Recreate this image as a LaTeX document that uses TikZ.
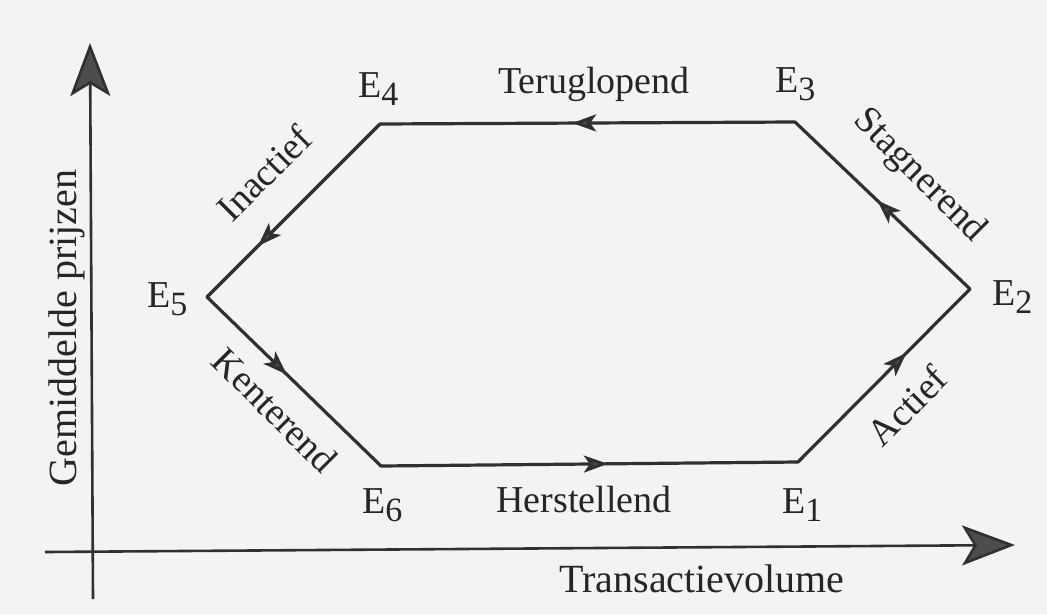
\documentclass[tikz,border=0pt]{standalone}
\usepackage{fontspec}
\setmainfont{Liberation Serif}
\usetikzlibrary{arrows.meta,decorations.markings}
\definecolor{ink}{HTML}{303030}
\definecolor{headgray}{HTML}{4D4D4D}
\definecolor{paper}{HTML}{F3F3F1}
\definecolor{txt}{HTML}{262626}
\newcommand{\Esub}[1]{E\raisebox{-8pt}{\fontsize{34}{34}\selectfont #1}}
\begin{document}
\begin{tikzpicture}[x=1pt,y=-1pt,
  edge/.style={draw=ink, line width=3.2pt, line cap=round},
  axisline/.style={draw=ink, line width=2.6pt, -{Stealth[length=53pt,width=40pt,inset=12pt,fill=headgray]}},
  midarrow/.style={postaction={decorate,decoration={markings,mark=at position #1 with {\arrow{Stealth[length=24pt,width=17pt,inset=6pt,fill=headgray]}}}}},
  lbl/.style={text=txt, font=\fontsize{38}{38}\selectfont, inner sep=0pt},
  elbl/.style={lbl, anchor=base west},
]
\fill[paper] (0,0) rectangle (1047,614);
\useasboundingbox (0,0) rectangle (1047,614);

% axes
\coordinate (ybot) at (93,599);
\coordinate (ytip) at (90,43);
\coordinate (xleft) at (45,552);
\coordinate (xtip) at (1015,545);
\draw[axisline] (ybot) -- (ytip);
\draw[axisline] (xleft) -- (xtip);

% hexagon vertices
\coordinate (E1) at (798,462);
\coordinate (E2) at (970,289);
\coordinate (E3) at (795,122);
\coordinate (E4) at (380,124);
\coordinate (E5) at (207,297);
\coordinate (E6) at (381,466);

\draw[edge, midarrow=0.63] (E1) -- (E2);
\draw[edge, midarrow=0.53] (E2) -- (E3);
\draw[edge, midarrow=0.537] (E3) -- (E4);
\draw[edge, midarrow=0.705] (E4) -- (E5);
\draw[edge, midarrow=0.458] (E5) -- (E6);
\draw[edge, midarrow=0.544] (E6) -- (E1);

% vertex labels
\node[elbl] (l1) at (782,513) {\Esub{1}};
\node[elbl] (l2) at (992,305) {\Esub{2}};
\node[elbl] (l3) at (775,92) {\Esub{3}};
\node[elbl] (l4) at (358,97) {\Esub{4}};
\node[elbl] (l5) at (147,307) {\Esub{5}};
\node[elbl] (l6) at (362,513) {\Esub{6}};

% phase labels
\node[lbl, anchor=base] (terug) at (594,93) {Teruglopend};
\node[lbl, anchor=base] (herst) at (584,512) {Herstellend};
\node[lbl, rotate=45] (inact) at (264,173) {Inactief};
\node[lbl, rotate=-45] (kent) at (275,410) {Kenterend};
\node[lbl, rotate=-45] (stag) at (919,176) {Stagnerend};
\node[lbl, rotate=45] (act) at (907,406) {Actief};

% axis labels
\node[lbl, anchor=base, font=\fontsize{40}{40}\selectfont] (xlab) at (702,592) {Transactievolume};
\node[lbl, anchor=base, rotate=90, font=\fontsize{40}{40}\selectfont] (ylab) at (76,328) {Gemiddelde prijzen};
\end{tikzpicture}
\end{document}
